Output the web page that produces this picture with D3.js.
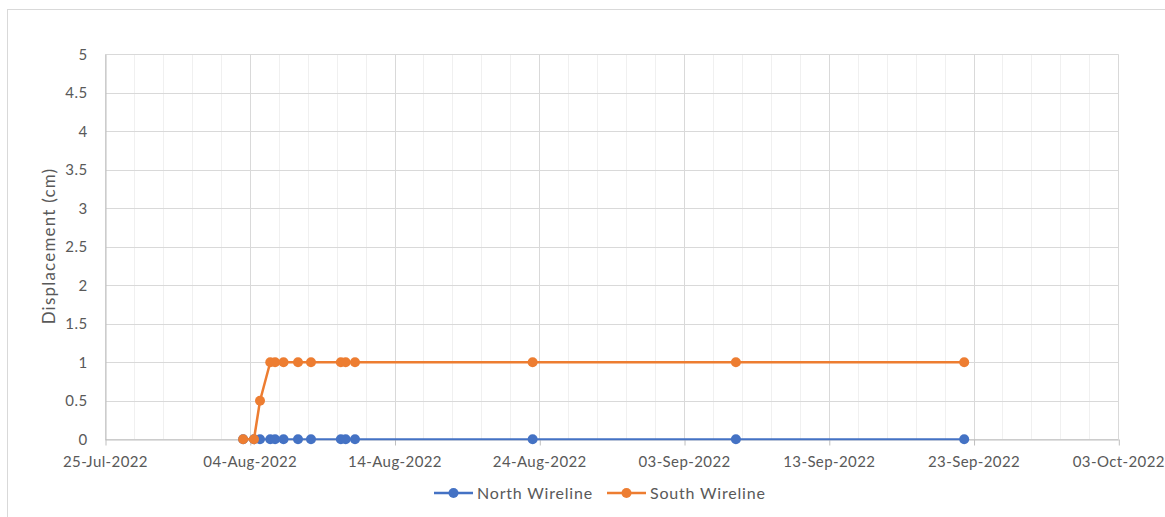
<!DOCTYPE html>
<meta charset="utf-8">
<script src="https://d3js.org/d3.v7.min.js"></script>
<style>
body { margin: 0; background: #fff; }
text { font-family: Lato, "Open Sans", sans-serif; fill: #595959; }
</style>
<body>
<script>

// readings, shared dates for both wirelines
var dates = ["2022-08-03 13:00", "2022-08-04 07:00", "2022-08-04 17:00", "2022-08-05 10:00",
             "2022-08-05 18:00", "2022-08-06 08:00", "2022-08-07 08:00", "2022-08-08 05:30",
             "2022-08-10 07:00", "2022-08-10 15:00", "2022-08-11 06:30", "2022-08-23 13:00",
             "2022-09-06 14:00", "2022-09-22 08:30"]
var north = [0, 0, 0, 0, 0, 0, 0, 0, 0, 0, 0, 0, 0, 0]
var south = [0, 0, 0.5, 1, 1, 1, 1, 1, 1, 1, 1, 1, 1, 1]

var yTicks = [0, 0.5, 1, 1.5, 2, 2.5, 3, 3.5, 4, 4.5, 5]
var xStart = "2022-07-25", xEnd = "2022-10-03"
var seriesNames = ["North Wireline", "South Wireline"]
var seriesColors = ["#4472C4", "#ED7D31"]

var width = 1165, height = 517
var margin = {left: 105, right: 1118.3, top: 54.3, bottom: 439.3}

var parse = d3.timeParse("%Y-%m-%d %H:%M")
var parseDay = d3.timeParse("%Y-%m-%d")
var fmt = d3.timeFormat("%d-%b-%Y")

var x = d3.scaleTime()
    .domain([parseDay(xStart), parseDay(xEnd)])
    .range([margin.left, margin.right])

var y = d3.scaleLinear()
    .domain([0, 5])
    .range([margin.bottom, margin.top])

var svg = d3.select("body").append("svg")
    .attr("width", width)
    .attr("height", height)

// chart border
svg.append("rect")
    .attr("x", 7.5).attr("y", 9.5)
    .attr("width", width).attr("height", height)
    .attr("fill", "none")
    .attr("stroke", "#d9d9d9")

var span = d3.timeDay.count(parseDay(xStart), parseDay(xEnd))
var majorDays = d3.range(0, span + 1, 10).map(d => d3.timeDay.offset(parseDay(xStart), d))
var minorDays = d3.range(0, span + 1, 2).map(d => d3.timeDay.offset(parseDay(xStart), d))

// minor vertical grid
svg.append("g").selectAll("line")
    .data(minorDays)
    .enter().append("line")
    .attr("x1", d => Math.round(x(d)) + 0.5).attr("x2", d => Math.round(x(d)) + 0.5)
    .attr("y1", margin.top).attr("y2", margin.bottom)
    .attr("stroke", "#f0f0f0")

// major vertical grid
svg.append("g").selectAll("line")
    .data(majorDays)
    .enter().append("line")
    .attr("x1", d => Math.round(x(d)) + 0.5).attr("x2", d => Math.round(x(d)) + 0.5)
    .attr("y1", margin.top).attr("y2", margin.bottom)
    .attr("stroke", "#d9d9d9")

// horizontal grid
svg.append("g").selectAll("line")
    .data(yTicks)
    .enter().append("line")
    .attr("x1", margin.left).attr("x2", margin.right)
    .attr("y1", d => Math.round(y(d)) + 0.5).attr("y2", d => Math.round(y(d)) + 0.5)
    .attr("stroke", "#d9d9d9")

// y axis
var yAxis = d3.axisLeft(y)
    .tickValues(yTicks)
    .tickSize(0)
    .tickPadding(18)
    .tickFormat(d3.format(""))

svg.append("g")
    .attr("transform", "translate(" + (Math.round(margin.left) + 0.5) + ",0)")
    .call(yAxis)
    .call(g => g.select(".domain").attr("stroke", "#bfbfbf"))
    .call(g => g.selectAll("text").style("font-size", "15px").style("letter-spacing", "0.4px").attr("fill", "#595959"))

// x axis
var xAxis = d3.axisBottom(x)
    .tickValues(majorDays)
    .tickSize(6)
    .tickSizeOuter(0)
    .tickPadding(11)
    .tickFormat(fmt)

svg.append("g")
    .attr("transform", "translate(0," + (Math.round(margin.bottom) + 0.5) + ")")
    .call(xAxis)
    .call(g => g.select(".domain").attr("stroke", "#bfbfbf"))
    .call(g => g.selectAll(".tick line").attr("stroke", "#bfbfbf").attr("transform", "translate(0.5,0)"))
    .call(g => g.selectAll("text").style("font-size", "15px").style("letter-spacing", "0.4px").attr("fill", "#595959"))

// y title
svg.append("text")
    .attr("transform", "translate(55,246) rotate(-90)")
    .attr("text-anchor", "middle")
    .style("font-size", "17px")
    .style("letter-spacing", "1.2px")
    .text("Displacement (cm)")

var pts = dates.map(parse)
var line = d3.line().x(d => x(d[0])).y(d => y(d[1]))

var series = [north, south]
series.forEach((vals, i) => {
    var data = pts.map((d, j) => [d, vals[j]])
    svg.append("path")
        .datum(data)
        .attr("fill", "none")
        .attr("stroke", seriesColors[i])
        .attr("stroke-width", i == 0 ? 2 : 2.5)
        .attr("stroke-linejoin", "round")
        .attr("d", line)
    svg.append("g").selectAll("circle")
        .data(data)
        .enter().append("circle")
        .attr("cx", d => x(d[0]))
        .attr("cy", d => y(d[1]))
        .attr("r", 5)
        .attr("fill", seriesColors[i])
})

// legend
var legendX = [434, 607]
var legend = svg.append("g")
seriesNames.forEach((name, i) => {
    var g = legend.append("g").attr("transform", "translate(" + legendX[i] + ",493)")
    g.append("line").attr("x1", 0).attr("x2", 39)
        .attr("stroke", seriesColors[i]).attr("stroke-width", 2.5)
    g.append("circle").attr("cx", 19.5).attr("r", 5).attr("fill", seriesColors[i])
    g.append("text").attr("x", 43).attr("dy", "0.35em")
        .style("font-size", "16px")
        .style("letter-spacing", "0.8px")
        .text(name)
})

</script>
</body>
